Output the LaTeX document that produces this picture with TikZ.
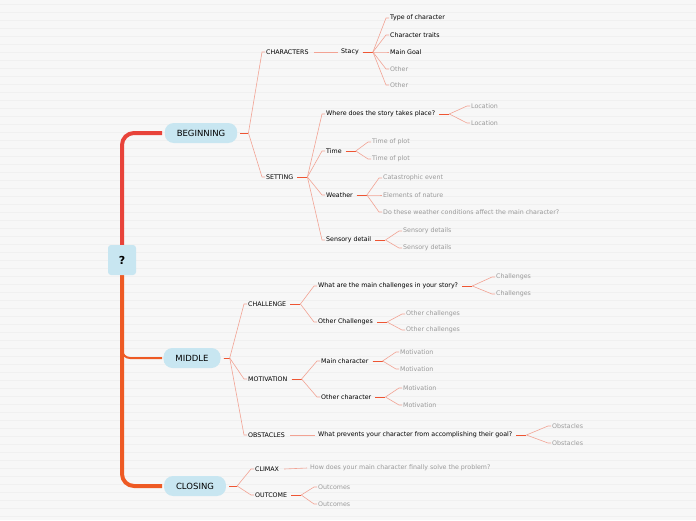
\documentclass[tikz,border=0pt]{standalone}
\usepackage{fontspec}
\setmainfont{DejaVu Sans}
\usetikzlibrary{calc}
\definecolor{pill}{HTML}{C8E6F1}
\definecolor{lnk}{HTML}{F2A394}
\definecolor{forkc}{HTML}{EE5533}
\definecolor{gtx}{HTML}{9A9A9A}
\definecolor{bgc}{HTML}{F7F7F7}
\definecolor{bgl}{HTML}{F0F0F0}
\definecolor{trr}{HTML}{E8433A}
\definecolor{tro}{HTML}{EE5A24}
\tikzset{
 t/.style={anchor=west,inner sep=1pt,font=\fontsize{6.3}{7.5}\selectfont,text=black,yshift=-1pt},
 g/.style={t,text=gtx},
 pillbox/.style={fill=pill,rounded corners=9pt,minimum height=20pt,inner xsep=12pt,font=\fontsize{8.5}{10}\selectfont},
 conn/.style={color=lnk,line width=0.6pt},
 fk/.style={color=forkc,line width=1pt}
}
\newcommand\br[3]{\draw[fk] ($(#1.east)+(3,0)$) -- ++(#3,0) coordinate (tmpf);\draw[conn] (tmpf) -- ($(#2.west)+(-3,0)$) -- (#2.west);}
\begin{document}
\begin{tikzpicture}[x=1pt,y=-1pt]
\fill[bgc] (0,0) rectangle (696,520);
\useasboundingbox (0,0) rectangle (696,520);
\foreach \y in {4,12,...,516} \draw[bgl,line width=0.5pt] (0,\y) -- (696,\y);
% trunk
\draw[line width=4pt,trr,rounded corners=12pt] (162,133) -- (122,133) -- (122,262);
\draw[line width=4pt,tro,rounded corners=12pt] (122,255) -- (122,486) -- (162,486);
\draw[line width=2pt,tro,rounded corners=8pt] (122,330) -- (122,358) -- (162,358);
\node[fill=pill,rounded corners=3pt,minimum width=28pt,minimum height=30pt,font=\bfseries\fontsize{11}{12}\selectfont] (q) at (122,260) {?};
\node[pillbox] (b) at (201,133) {BEGINNING};
\node[pillbox] (m) at (192,358) {MIDDLE};
\node[pillbox] (c) at (195,486) {CLOSING};
% level 2
\node[t] (ch) at (265,51) {CHARACTERS};
\node[t] (se) at (265,176) {SETTING};
\node[t] (cl) at (247,303) {CHALLENGE};
\node[t] (mo) at (247,378) {MOTIVATION};
\node[t] (ob) at (247,434) {OBSTACLES};
\node[t] (cx) at (254,468) {CLIMAX};
\node[t] (oc) at (254,494) {OUTCOME};
\br{b}{ch}{8}\br{b}{se}{8}
\br{m}{cl}{6}\br{m}{mo}{6}\br{m}{ob}{6}
\br{c}{cx}{8}\br{c}{oc}{8}
% characters
\node[t] (st) at (340,51) {Stacy};
\draw[conn] ($(ch.east)+(4,0)$) -- ($(st.west)+(-2,0)$);
\node[t] (s1) at (389,17) {Type of character};
\node[t] (s2) at (389,34) {Character traits};
\node[t] (s3) at (389,51) {Main Goal};
\node[g] (s4) at (389,68) {Other};
\node[g] (s5) at (389,84) {Other};
\foreach \k in {s1,s2,s3,s4,s5} {\br{st}{\k}{10}}
% setting
\node[t] (w1) at (325,113) {Where does the story takes place?};
\node[t] (w2) at (325,150) {Time};
\node[t] (w3) at (325,194) {Weather};
\node[t] (w4) at (325,239) {Sensory detail};
\foreach \k in {w1,w2,w3,w4} {\br{se}{\k}{10}}
\node[g] (l1) at (470,105) {Location};
\node[g] (l2) at (470,122) {Location};
\br{w1}{l1}{10}\br{w1}{l2}{10}
\node[g] (t1) at (371,141) {Time of plot};
\node[g] (t2) at (371,158) {Time of plot};
\br{w2}{t1}{10}\br{w2}{t2}{10}
\node[g] (e1) at (382,177) {Catastrophic event};
\node[g] (e2) at (382,194) {Elements of nature};
\node[g] (e3) at (382,211) {Do these weather conditions affect the main character?};
\br{w3}{e1}{10}\br{w3}{e2}{10}\br{w3}{e3}{10}
\node[g] (d1) at (402,230) {Sensory details};
\node[g] (d2) at (402,247) {Sensory details};
\br{w4}{d1}{10}\br{w4}{d2}{10}
% challenge
\node[t] (c1) at (317,285) {What are the main challenges in your story?};
\node[t] (c2) at (317,321) {Other Challenges};
\br{cl}{c1}{10}\br{cl}{c2}{10}
\node[g] (h1) at (495,276) {Challenges};
\node[g] (h2) at (495,293) {Challenges};
\br{c1}{h1}{10}\br{c1}{h2}{10}
\node[g] (o1) at (405,313) {Other challenges};
\node[g] (o2) at (405,329) {Other challenges};
\br{c2}{o1}{10}\br{c2}{o2}{10}
% motivation
\node[t] (m1) at (320,360) {Main character};
\node[t] (m2) at (320,396) {Other character};
\br{mo}{m1}{10}\br{mo}{m2}{10}
\node[g] (v1) at (399,351) {Motivation};
\node[g] (v2) at (399,368) {Motivation};
\br{m1}{v1}{10}\br{m1}{v2}{10}
\node[g] (v3) at (402,387) {Motivation};
\node[g] (v4) at (402,404) {Motivation};
\br{m2}{v3}{10}\br{m2}{v4}{10}
% obstacles
\node[t] (p1) at (317,434) {What prevents your character from accomplishing their goal?};
\draw[conn] ($(ob.east)+(4,0)$) -- ($(p1.west)+(-2,0)$);
\node[g] (b1) at (551,425) {Obstacles};
\node[g] (b2) at (551,442) {Obstacles};
\br{p1}{b1}{10}\br{p1}{b2}{10}
% closing
\node[g] (x1) at (309,467) {How does your main character finally solve the problem?};
\draw[conn] ($(cx.east)+(4,0)$) -- ($(x1.west)+(-2,0)$);
\node[g] (u1) at (317,486) {Outcomes};
\node[g] (u2) at (317,503) {Outcomes};
\br{oc}{u1}{10}\br{oc}{u2}{10}
\end{tikzpicture}
\end{document}
